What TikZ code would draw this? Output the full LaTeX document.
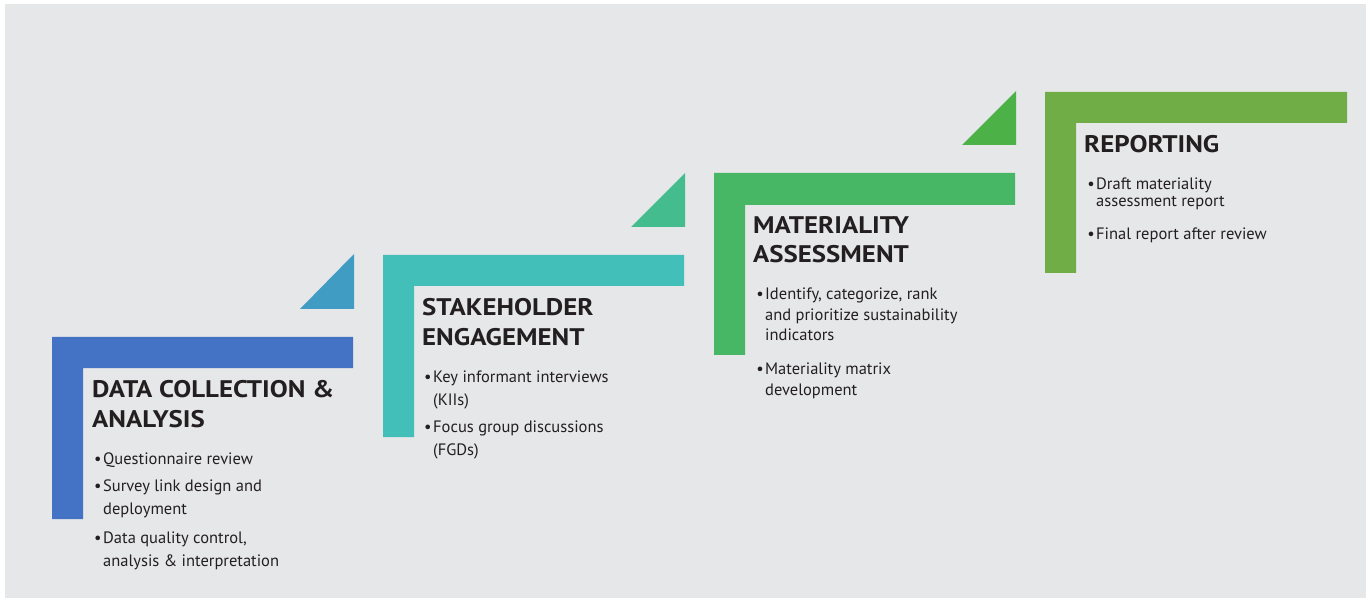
\documentclass[tikz,border=0pt]{standalone}
\usepackage{fontspec}
\setmainfont{PT Sans}
\newfontfamily\titlefont[FakeStretch=1.12]{PT Sans}
\definecolor{bggrey}{HTML}{E6E7E8}
\definecolor{ink}{HTML}{231F20}
\definecolor{dcblue}{HTML}{4472C4}
\definecolor{dctri}{HTML}{409CC3}
\definecolor{seteal}{HTML}{43BFBA}
\definecolor{setri}{HTML}{44BC8D}
\definecolor{magreen}{HTML}{47B766}
\definecolor{matri}{HTML}{4CB147}
\definecolor{rpgreen}{HTML}{70AD47}
\newcommand{\bul}{\llap{\textbullet\hspace{1.5pt}}}

\begin{document}
\begin{tikzpicture}[x=1pt,y=-1pt,
  steptitle/.style={anchor=base west, align=left, inner sep=0pt, text=ink,
    font=\titlefont\bfseries\fontsize{24}{29.5}\selectfont},
  stepitem/.style={anchor=base west, align=left, inner sep=0pt, text=ink,
    font=\fontsize{16.5}{23}\selectfont}]
\useasboundingbox (0,0) rectangle (1370,601);
\fill [white] (0,0) rectangle (1370,601);
\fill [bggrey] (5,4) rectangle (1366,598);
% data collection (multi-line nodes sit on their last baseline)
\fill [dcblue] (52,337) -- (353,337) -- (353,368) -- (83,368) -- (83,519) -- (52,519) -- cycle;
\fill [dctri] (300,309) -- (354,309) -- (354,254) -- cycle;
\node[steptitle] (dctitle) at (92,427) {DATA COLLECTION \&\\ANALYSIS};
\node[stepitem] (dcone) at (103,464) {\bul Questionnaire review};
\node[stepitem] (dctwo) at (103,514) {\bul Survey link design and\\deployment};
\node[stepitem] (dcthree) at (103,566) {\bul Data quality control,\\analysis \& interpretation};
% stakeholder engagement
\fill [seteal] (383,255) -- (684,255) -- (684,286) -- (414,286) -- (414,437) -- (383,437) -- cycle;
\fill [setri] (631,227) -- (685,227) -- (685,173) -- cycle;
\node[steptitle] (setitle) at (422,345) {STAKEHOLDER\\ENGAGEMENT};
\node[stepitem] (seone) at (433,405) {\bul Key informant interviews\\(KIIs)};
\node[stepitem] (setwo) at (433,455) {\bul Focus group discussions\\(FGDs)};
% materiality assessment
\fill [magreen] (714,173) -- (1015,173) -- (1015,205) -- (745,205) -- (745,355) -- (714,355) -- cycle;
\fill [matri] (962,145) -- (1016,145) -- (1016,91) -- cycle;
\node[steptitle] (matitle) at (753,263) {MATERIALITY\\ASSESSMENT};
\node[stepitem, font=\fontsize{16.5}{20.5}\selectfont] (maone) at (765,341)
  {\bul Identify, categorize, rank\\and prioritize sustainability\\indicators};
\node[stepitem, font=\fontsize{16.5}{20.5}\selectfont] (matwo) at (765,395)
  {\bul Materiality matrix\\development};
% reporting
\fill [rpgreen] (1045,92) -- (1347,92) -- (1347,123) -- (1076,123) -- (1076,273) -- (1045,273) -- cycle;
\node[steptitle] (rptitle) at (1084,153) {REPORTING};
\node[stepitem, font=\fontsize{16.5}{17.5}\selectfont] (rpone) at (1096,207)
  {\bul Draft materiality\\assessment report};
\node[stepitem] (rptwo) at (1096,240) {\bul Final report after review};
\end{tikzpicture}
\end{document}
